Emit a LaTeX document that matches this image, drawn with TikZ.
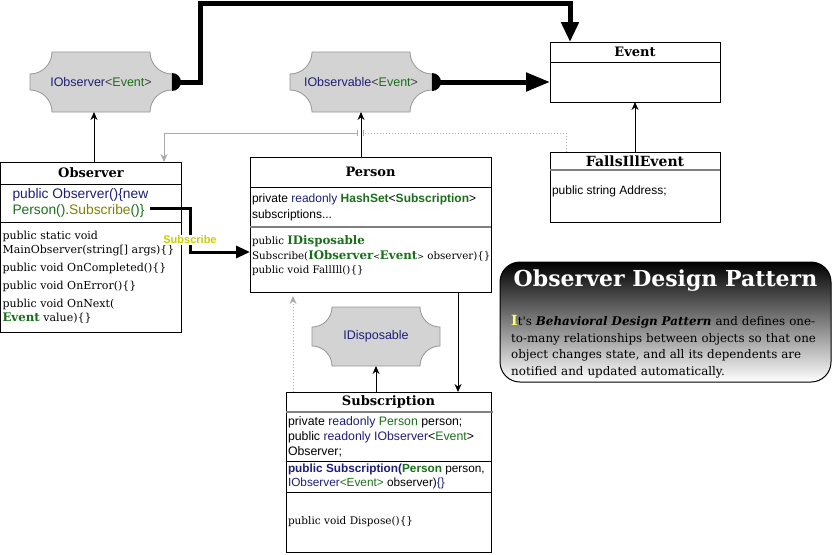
\documentclass[tikz,border=0pt]{standalone}
\usepackage{fontspec}
\setmainfont{DejaVu Serif}
\setsansfont{Liberation Sans}
\newfontfamily\georgiafont{DejaVu Serif}
\usetikzlibrary{arrows.meta,positioning,backgrounds}

\definecolor{navytxt}{RGB}{30,30,120}
\definecolor{greentxt}{RGB}{25,110,25}
\definecolor{olivetxt}{RGB}{128,128,0}
\definecolor{lblyellow}{RGB}{204,204,0}
\definecolor{capyellow}{RGB}{255,255,102}
\definecolor{plaquefill}{RGB}{211,211,211}
\definecolor{plaqueline}{RGB}{150,150,150}
\definecolor{jumpgray}{RGB}{170,170,170}

\newcommand{\kwd}[1]{\textcolor{navytxt}{#1}}
\newcommand{\typ}[1]{\textcolor{greentxt}{#1}}
\newcommand{\bigtyp}[1]{\textcolor{greentxt}{\bfseries\fontsize{11.8}{14}\selectfont #1}}
\newcommand{\smallang}[1]{{\fontsize{8}{10}\selectfont #1}}
\newcommand{\secbox}[4][c]{\parbox[c][#3][#1]{#2}{#4}}
% concave-cornered box round a node
\newcommand{\plaque}[2]{%
  \path[plaquebg] ([xshift=#2]#1.north west) -- ([xshift=-#2]#1.north east)
    arc[start angle=180,end angle=270,radius=#2] -- ([yshift=#2]#1.south east)
    arc[start angle=90,end angle=180,radius=#2] -- ([xshift=#2]#1.south west)
    arc[start angle=0,end angle=90,radius=#2] -- ([yshift=-#2]#1.north west)
    arc[start angle=270,end angle=360,radius=#2] -- cycle;}

\tikzset{
  classhead/.style={draw, line width=1pt, inner sep=0pt, outer sep=0pt,
    font=\georgiafont\bfseries\fontsize{13}{15}\selectfont},
  classsec/.style={draw, line width=1pt, inner xsep=2pt, inner ysep=2pt,
    outer sep=0pt, below=0pt of #1},
  plaquenode/.style={inner sep=0pt, outer sep=0pt, text=navytxt,
    font=\sffamily\fontsize{12.5}{14}\selectfont},
  plaquebg/.style={fill=plaquefill, draw=plaqueline, line width=0.8pt},
  conn/.style={line width=1pt, -{Stealth[length=8pt,width=7pt]}},
  grayconn/.style={line width=1pt, jumpgray, -{Stealth[length=8pt,width=7pt]}},
  fatconn/.style={line width=5pt, -{Triangle[length=20pt,width=17pt]}},
  subconn/.style={line width=3pt, -{Triangle[length=14pt,width=12pt]}},
  sublbl/.style={fill=white, inner sep=1pt, text=lblyellow,
    font=\sffamily\bfseries\fontsize{11}{13}\selectfont},
  titlebox/.style={draw, line width=1pt, rounded corners=20pt,
    top color=black, bottom color=white, inner sep=0pt}
}

\begin{document}
\begin{tikzpicture}[x=1pt, y=-1pt]
  \useasboundingbox (0,0) rectangle (832,554);

  % interfaces
  \node[plaquenode, minimum width=142pt, minimum height=60pt] (obsI) at (101,82)
    {IObserver\textcolor{darkgray}{<}\typ{Event}\textcolor{darkgray}{>}};
  \node[plaquenode, minimum width=142pt, minimum height=60pt] (obsV) at (361,82)
    {IObservable\textcolor{darkgray}{<}\typ{Event}\textcolor{darkgray}{>}};
  \node[plaquenode, minimum width=128pt, minimum height=59pt] (idis) at (376,336.5)
    {IDisposable};
  \begin{scope}[on background layer]
    \foreach \p/\r in {obsI/22pt, obsV/22pt, idis/20pt}{
      \plaque{\p}{\r}
    };
  \end{scope}

  % Observer
  \node[classhead, minimum width=181pt, minimum height=22pt] (obs) at (91,173) {Observer};
  \node[classsec=obs, text=navytxt, font=\sffamily\fontsize{13.8}{15.5}\selectfont] (obsA)
    {\secbox{177pt}{34pt}{\leftskip=10pt public Observer()\{new\\
      \typ{Person().}\textcolor{olivetxt}{Subscribe}\typ{()\}}}};
  \node[classsec=obsA, font=\fontsize{11}{14}\selectfont] (obsB)
    {\secbox{177pt}{106pt}{public static void\\MainObserver(string[] args)\{\}\\[4pt]
      public void OnCompleted()\{\}\\[4pt]public void OnError()\{\}\\[4pt]
      public void OnNext(\\\bigtyp{Event} value)\{\}}};

  % Person
  \node[classhead, minimum width=241pt, minimum height=30pt] (per) at (370.5,172) {Person};
  \node[classsec=per, font=\sffamily\fontsize{12}{16}\selectfont] (perA)
    {\secbox{237pt}{36pt}{private \kwd{readonly} \typ{\textbf{HashSet}}<\typ{\textbf{Subscription}}>\\
      subscriptions...}};
  \node[classsec=perA, font=\fontsize{10.3}{14.5}\selectfont] (perB)
    {\secbox[t]{237pt}{61pt}{\vspace*{7pt}public \bigtyp{IDisposable}\\
      \mbox{Subscribe(\bigtyp{IObserver}\smallang{<}\bigtyp{Event}\smallang{>} observer)\{\}}\\
      public void FallIll()\{\}}};
  \draw[gray, line width=2pt] (perA.south west) -- (perA.south east);

  % Event
  \node[classhead, minimum width=170pt, minimum height=20pt] (ev) at (635,52) {Event};
  \node[classsec=ev, minimum width=170pt, minimum height=40pt] (evB) {};

  % FallsIllEvent
  \node[classhead, minimum width=170pt, minimum height=18pt,
    font=\georgiafont\bfseries\fontsize{14}{16}\selectfont] (fie) at (635,161) {FallsIllEvent};
  \node[classsec=fie, font=\sffamily\fontsize{12}{14}\selectfont] (fieB)
    {\secbox[t]{166pt}{48pt}{\vspace*{14pt}public string Address;}};
  \draw[gray, line width=2pt] (fie.south west) -- (fie.south east);

  % Subscription
  \node[classhead, minimum width=205pt, minimum height=20pt] (sub) at (388.5,402) {Subscription};
  \node[classsec=sub, font=\sffamily\fontsize{12.3}{15}\selectfont] (subA)
    {\secbox{201pt}{45pt}{private \kwd{readonly} \typ{Person} person;\\
      public \kwd{readonly} \kwd{IObserver}<\typ{Event}>\\Observer;}};
  \node[classsec=subA, font=\sffamily\fontsize{11.8}{13.5}\selectfont] (subB)
    {\secbox{201pt}{27pt}{\kwd{\textbf{public Subscription(}}\typ{\textbf{Person}} person,\\
      \kwd{IObserver}\typ{<Event>} observer)\kwd{\{\}}}};
  \node[classsec=subB, font=\fontsize{10.5}{15}\selectfont] (subC)
    {\secbox{201pt}{56pt}{public void Dispose()\{\}}};
  \draw[gray, line width=1.5pt] (sub.south west) -- ([xshift=2pt]sub.south east);

  % pattern note
  \node[titlebox, minimum width=331pt, minimum height=120pt] (info) at (665.5,322) {};
  \node[text=white, font=\georgiafont\bfseries\fontsize{22}{26}\selectfont] (infoT)
    at (665.5,281) {Observer Design Pattern};
  \node[anchor=north west, inner sep=0pt, text width=320pt, align=left,
    font=\georgiafont\fontsize{11.9}{16.7}\selectfont] (infoB) at (511,315)
    {{\color{capyellow}\bfseries\fontsize{14}{16.7}\selectfont I}t's
     \textbf{\textit{Behavioral Design Pattern}} and defines one-\\
     to-many relationships between objects so that one\\
     object changes state, and all its dependents are\\
     notified and updated automatically.};

  % connectors
  \coordinate (topL) at (200,3);
  \coordinate (topR) at (570,3);
  \draw[fatconn] (obsI.east) -| (topL) -- (topR) -- (topR |- ev.north);
  \draw[fatconn, -{Triangle[length=24pt,width=18pt]}] (obsV.east) -- (evB.west);
  \foreach \p in {obsI, obsV}
    \fill (\p.east) ++(0,9pt) arc[start angle=90, end angle=-90, radius=9pt] -- cycle;

  \draw[conn] ([xshift=3pt]obs.north) -- ([xshift=3pt]obs.north |- obsI.south);
  \draw[conn] (obsV.south |- per.north) -- (obsV.south);
  \draw[conn] (fie.north) -- (evB.south);
  \draw[conn] (sub.north -| idis.south) -- (idis.south);
  \draw[conn] ([xshift=87.5pt]perB.south) -- ([xshift=87.5pt]perB.south |- sub.north);
  \draw[grayconn, dotted, shorten >=4pt] ([xshift=-95.5pt]sub.north)
    -- ([xshift=-95.5pt]sub.north |- perB.south);

  \coordinate (jumpR) at (363,133);
  \coordinate (jumpL) at (358,133);
  \draw[jumpgray, line width=1pt, dotted, -{Bar[width=6pt]}] ([xshift=-69pt]fie.north) |- (jumpR);
  \draw[grayconn, {Bar[width=6pt]}-{Stealth[length=8pt,width=7pt]}] (jumpL) -| ([xshift=73pt]obs.north);

  \coordinate (subS) at (150,208);
  \coordinate (subM) at (190,208);
  \draw[subconn] (subS) -- (subM) |- node[sublbl, pos=0.36] (lblSub) {Subscribe}
    ([yshift=7.5pt]perB.west);
\end{tikzpicture}
\end{document}
